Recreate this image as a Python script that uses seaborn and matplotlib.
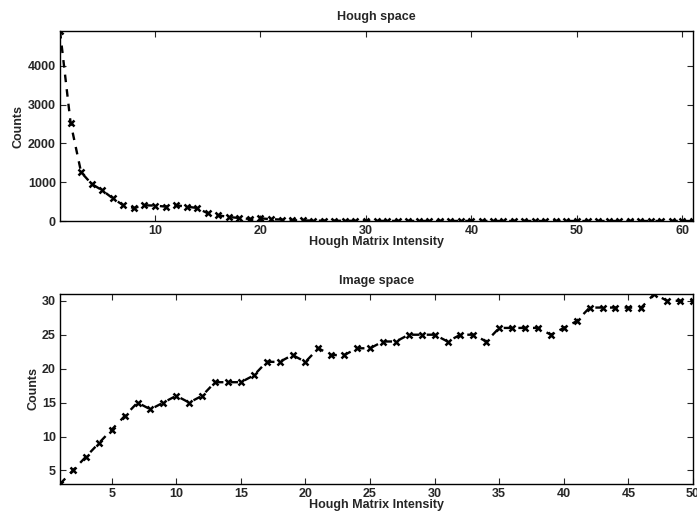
import matplotlib
matplotlib.use("Agg")
import matplotlib.pyplot as plt
import seaborn as sns
import pandas as pd

hough_x = list(range(1, 62))
hough_counts = [4900, 2540, 1257, 955, 792, 586, 405, 335, 405, 397,
                371, 405, 371, 335, 199, 147, 103, 77, 52, 70,
                45, 37, 20, 15, 10, 8, 6, 5, 4, 3,
                3, 2, 2, 2, 1, 1, 1, 1, 1, 1,
                1, 1, 1, 1, 1, 0, 0, 0, 0, 0,
                0, 0, 0, 0, 0, 0, 0, 0, 0, 0, 0]

image_x = list(range(1, 51))
image_counts = [3, 5, 7, 9, 11, 13, 15, 14, 15, 16,
                15, 16, 18, 18, 18, 19, 21, 21, 22, 21,
                23, 22, 22, 23, 23, 24, 24, 25, 25, 25,
                24, 25, 25, 24, 26, 26, 26, 26, 25, 26,
                27, 29, 29, 29, 29, 29, 31, 30, 30, 30]

sns.set_style("ticks")
plt.rcParams['font.family'] = ['Liberation Sans', 'DejaVu Sans']
plt.rcParams['font.weight'] = 'bold'
plt.rcParams['axes.labelweight'] = 'bold'
plt.rcParams['axes.titleweight'] = 'bold'

fig = plt.figure(figsize=(6.97, 5.21), dpi=100)
W, H = 697, 521
ax1 = fig.add_axes([60 / W, 1 - 221 / H, 633 / W, 190 / H])
ax2 = fig.add_axes([60 / W, 1 - 484 / H, 633 / W, 190 / H])

df1 = pd.DataFrame({"x": hough_x, "y": hough_counts})
df2 = pd.DataFrame({"x": image_x, "y": image_counts})

kw = dict(color="black", linewidth=1.7, marker="x", dashes=False,
          markersize=4, markeredgewidth=1.8, markeredgecolor="black")
for ax, df in ((ax1, df1), (ax2, df2)):
    sns.lineplot(data=df, x="x", y="y", ax=ax, **kw)
    ax.lines[0].set_dashes((3.2, 3.0))

fs = 9
ax1.set_xlim(1, 61)
ax1.set_ylim(0, 4900)
ax1.set_xticks([10, 20, 30, 40, 50, 60])
ax1.set_yticks([0, 1000, 2000, 3000, 4000])
ax1.set_title("Hough space", fontsize=fs, fontweight='bold', pad=8)

ax2.set_xlim(1, 50)
ax2.set_ylim(3, 31)
ax2.set_xticks([5, 10, 15, 20, 25, 30, 35, 40, 45, 50])
ax2.set_yticks([5, 10, 15, 20, 25, 30])
ax2.set_title("Image space", fontsize=fs, fontweight='bold', pad=7)

for ax in (ax1, ax2):
    ax.set_xlabel("Hough Matrix Intensity", fontsize=fs, fontweight='bold', labelpad=-1)
    ax.set_ylabel("Counts", fontsize=fs, fontweight='bold', labelpad=2)
    ax.tick_params(direction="in", top=True, right=True, length=4, width=0.8,
                   labelsize=fs, pad=3)
    for lab in ax.get_xticklabels() + ax.get_yticklabels():
        lab.set_fontweight('bold')
    for s in ax.spines.values():
        s.set_visible(True)
        s.set_linewidth(1.0)
        s.set_color("black")

fig.savefig("out.png", dpi=100)
